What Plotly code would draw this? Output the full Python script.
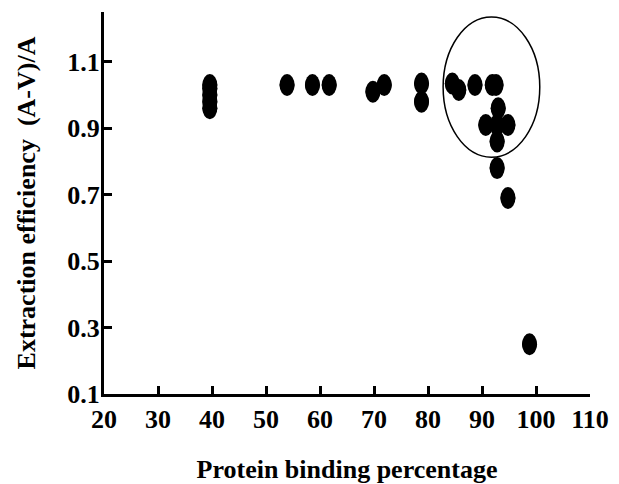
import plotly.graph_objects as go

# Data
binding = [39.6, 39.6, 39.6, 39.6, 39.6,
           53.9, 58.6, 61.7, 69.8, 71.9, 78.8, 78.8,
           84.5, 85.7, 88.7, 91.9, 92.6,
           93.0, 90.7, 92.8, 94.8, 92.8, 92.8, 94.8, 98.8]
efficiency = [0.96, 0.98, 1.00, 1.02, 1.03,
              1.03, 1.03, 1.03, 1.01, 1.03, 1.035, 0.98,
              1.035, 1.015, 1.03, 1.03, 1.03,
              0.96, 0.91, 0.91, 0.91, 0.86, 0.78, 0.69, 0.25]

x_ticks = [20, 30, 40, 50, 60, 70, 80, 90, 100, 110]
y_ticks = [0.1, 0.3, 0.5, 0.7, 0.9, 1.1]
y_tick_text = ["0.1", "0.3", "0.5", "0.7", "0.9", "1.1"]

# highlight ellipse (data coords)
ell_x = [82.8, 100.7]
ell_y = [0.813, 1.235]

FONT = "Liberation Serif"
FS = 26
MW, MH = 15, 22  # marker pixel size (ellipse)

fig = go.Figure()
fig.add_trace(go.Scatter(
    x=binding, y=efficiency, mode="markers",
    marker=dict(size=MW, color="black", line=dict(width=0)),
    showlegend=False, hoverinfo="x+y",
))

shapes = []
for xv, yv in zip(binding, efficiency):
    shapes.append(dict(
        type="circle", xref="x", yref="y",
        xsizemode="pixel", ysizemode="pixel",
        xanchor=xv, yanchor=yv,
        x0=-MW / 2, x1=MW / 2, y0=-MH / 2, y1=MH / 2,
        fillcolor="black", line=dict(width=0), layer="above",
    ))
shapes.append(dict(
    type="circle", xref="x", yref="y",
    x0=ell_x[0], x1=ell_x[1], y0=ell_y[0], y1=ell_y[1],
    line=dict(color="black", width=1.5), fillcolor="rgba(0,0,0,0)",
    layer="above",
))

fig.update_layout(
    width=619, height=484,
    margin=dict(l=104, r=29, t=12, b=90),
    paper_bgcolor="white", plot_bgcolor="white",
    font=dict(family=FONT, color="black", size=FS, weight="bold"),
    shapes=shapes,
    xaxis=dict(
        range=[20, 110], tickvals=x_ticks, ticktext=[str(t) for t in x_ticks],
        showline=True, linewidth=3, linecolor="black",
        ticks="inside", ticklen=8, tickwidth=3, tickcolor="black",
        showgrid=False, zeroline=False, automargin=False,
        tickfont=dict(family=FONT, size=FS, weight="bold"),
        title=dict(text="Protein binding percentage", standoff=30,
                   font=dict(family=FONT, size=FS, weight="bold")),
    ),
    yaxis=dict(
        range=[0.1, 1.25], tickvals=y_ticks, ticktext=y_tick_text,
        showline=True, linewidth=3, linecolor="black",
        ticks="inside", ticklen=8, tickwidth=3, tickcolor="black",
        showgrid=False, zeroline=False, automargin=False,
        ticklabelstandoff=-4,
        tickfont=dict(family=FONT, size=FS, weight="bold"),
        title=dict(text="Extraction efficiency  (A-V)/A", standoff=25,
                   font=dict(family=FONT, size=FS, weight="bold")),
    ),
)

fig.write_html("out.html", config={"displayModeBar": False},
               post_script="document.body.style.margin='0';")
